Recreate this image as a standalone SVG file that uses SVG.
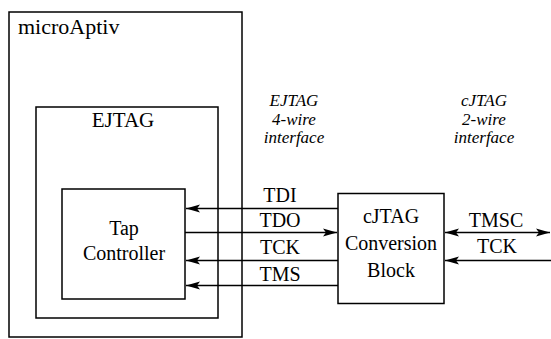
<svg xmlns="http://www.w3.org/2000/svg" width="551" height="339" viewBox="0 0 551 339">
<style>
.box{fill:none;stroke:#000;stroke-width:1.5}
.wire{fill:none;stroke:#000;stroke-width:1.5}
text{fill:#000;text-anchor:middle}
</style>
<defs>
<marker id="ah" viewBox="0 -5 15 10" refX="14" refY="0" markerWidth="15" markerHeight="10" markerUnits="userSpaceOnUse" orient="auto-start-reverse">
<path d="M0,-4 L14,0 L0,4 L3,0 Z" fill="#000"/>
</marker>
</defs>
<rect width="551" height="339" fill="#fff"/>
<g font-family="Liberation Serif, DejaVu Serif, serif" font-size="20">
<g id="microAptiv">
<rect class="box" x="9" y="12" width="233" height="325"/>
<text x="18" y="34" text-anchor="start" font-size="22" style="text-anchor:start">microAptiv</text>
</g>
<g id="ejtag">
<rect class="box" x="36" y="107" width="182" height="211"/>
<text x="123" y="127" font-size="21">EJTAG</text>
</g>
<g id="tap">
<rect class="box" x="62" y="189" width="123" height="110"/>
<text x="124" y="235">Tap</text>
<text x="124" y="260">Controller</text>
</g>
<g id="conv">
<rect class="box" x="338" y="193.5" width="106" height="110"/>
<text x="391" y="223">cJTAG</text>
<text x="391" y="250">Conversion</text>
<text x="391" y="277">Block</text>
</g>
<g id="labels" font-style="italic" font-size="17">
<text x="294" y="106">EJTAG</text>
<text x="294" y="125">4-wire</text>
<text x="294" y="143">interface</text>
<text x="484" y="106">cJTAG</text>
<text x="484" y="125">2-wire</text>
<text x="484" y="143">interface</text>
</g>
<g id="connectors">
<line class="wire" x1="338" y1="208.5" x2="186" y2="208.5" marker-end="url(#ah)"/>
<line class="wire" x1="185" y1="232.5" x2="337" y2="232.5" marker-end="url(#ah)"/>
<line class="wire" x1="338" y1="260.5" x2="186" y2="260.5" marker-end="url(#ah)"/>
<line class="wire" x1="338" y1="285.5" x2="186" y2="285.5" marker-end="url(#ah)"/>
<line class="wire" x1="445" y1="232.5" x2="550" y2="232.5" marker-start="url(#ah)" marker-end="url(#ah)"/>
<line class="wire" x1="551" y1="260.5" x2="445" y2="260.5" marker-end="url(#ah)"/>
<text x="280" y="202">TDI</text>
<text x="280" y="227">TDO</text>
<text x="280" y="254">TCK</text>
<text x="280" y="281">TMS</text>
<text x="496" y="227">TMSC</text>
<text x="497" y="253">TCK</text>
</g>
</g>
</svg>
